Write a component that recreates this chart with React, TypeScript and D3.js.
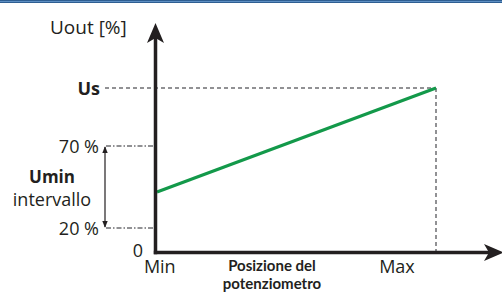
import React from "react";
import * as d3 from "d3";

// schematic Uout vs potentiometer position

const linePos = [0, 100];
const lineUout = [42, 100];
const levelValues = [20, 70, 100];
const levelLabels = ["20 %", "70 %", "Us"];
const xTickLabels = ["Min", "Max"];
const xTickPos = [1, 86];

const W = 502;
const H = 292;

const App = () => {
  const x = d3.scaleLinear().domain([0, 100]).range([157, 436]);
  // schematic axis, not to scale
  const y = d3.scaleLinear().domain([0, 20, 70, 100]).range([252.5, 228, 146, 88]);

  const pts = linePos.map((p, i) => [x(p), y(lineUout[i])] as [number, number]);
  const line = d3.line()(pts) || "";

  const axisX = 155.5;
  const axisY = y(0);
  const font = "'Open Sans', sans-serif";
  const dark = "#231f20";
  const grey = "#6d6e71";

  return (
    <svg
      width={W}
      height={H}
      style={{ position: "fixed", top: 0, left: 0, background: "#fff" }}
      fontFamily={font}
    >
      <defs>
        <marker id="sm" viewBox="0 0 10 10" refX="9" refY="5" markerWidth="6" markerHeight="6" orient="auto-start-reverse">
          <path d="M0,1 L10,5 L0,9 z" fill={dark} />
        </marker>
      </defs>
      {/* top border */}
      <rect x={0} y={0} width={W} height={3} fill="#2e5e92" />
      <rect x={0} y={1} width={W} height={0.8} fill="#6b9bd0" />

      {/* Us dashed guides */}
      <line x1={105} x2={x(100)} y1={y(100)} y2={y(100)} stroke={grey} strokeWidth={1.5} strokeDasharray="4 3" />
      <line x1={x(100)} x2={x(100)} y1={y(100)} y2={axisY} stroke={grey} strokeWidth={1.5} strokeDasharray="4 3" />

      {/* 20/70 dash-dot guides */}
      {[20, 70].map((v) => (
        <line key={v} x1={106} x2={axisX} y1={y(v)} y2={y(v)} stroke={grey} strokeWidth={1.3} strokeDasharray="5 2 1.5 2" />
      ))}
      <line x1={105} x2={105} y1={y(70) + 1} y2={y(20) - 1} stroke={dark} strokeWidth={1.2} markerStart="url(#sm)" markerEnd="url(#sm)" />

      {/* green characteristic */}
      <path d={line} fill="none" stroke="#13994a" strokeWidth={3.2} />

      {/* axes */}
      <line x1={axisX} x2={axisX} y1={axisY + 1.7} y2={38} stroke={dark} strokeWidth={3.5} />
      <path d={`M${axisX},23 L${axisX + 8.5},43 L${axisX},38 L${axisX - 8.5},43 Z`} fill={dark} />
      <line x1={axisX - 1.7} x2={490} y1={axisY} y2={axisY} stroke={dark} strokeWidth={3.5} />
      <path d={`M504,${axisY} L484,${axisY - 8.5} L489,${axisY} L484,${axisY + 8.5} Z`} fill={dark} />

      {/* y labels */}
      <text x={50} y={34} fontSize={19} fill={dark}>Uout [%]</text>
      {levelValues.map((v, i) => (
        <text
          key={v}
          x={i === 2 ? 100 : 99}
          y={y(v) + 6.5}
          textAnchor="end"
          fontSize={18}
          fontWeight={levelLabels[i] === "Us" ? 700 : 400}
          fill={dark}
        >
          {levelLabels[i]}
        </text>
      ))}
      <text x={52} y={183} textAnchor="middle" fontSize={17} fontWeight={700} fill={dark}>Umin</text>
      <text x={52} y={206} textAnchor="middle" fontSize={18} fill={dark}>intervallo</text>
      <text x={138} y={257} textAnchor="middle" fontSize={18} fill={dark}>0</text>

      {/* x labels */}
      {xTickLabels.map((t, i) => (
        <text key={t} x={x(xTickPos[i])} y={273} textAnchor="middle" fontSize={18} fill={dark}>{t}</text>
      ))}
      <g fontFamily="Lato, sans-serif" fontSize={15} fontWeight={700} fill={dark} textAnchor="middle">
        <text x={272} y={271}>Posizione del</text>
        <text x={272} y={289}>potenziometro</text>
      </g>
    </svg>
  );
};

export default App;
